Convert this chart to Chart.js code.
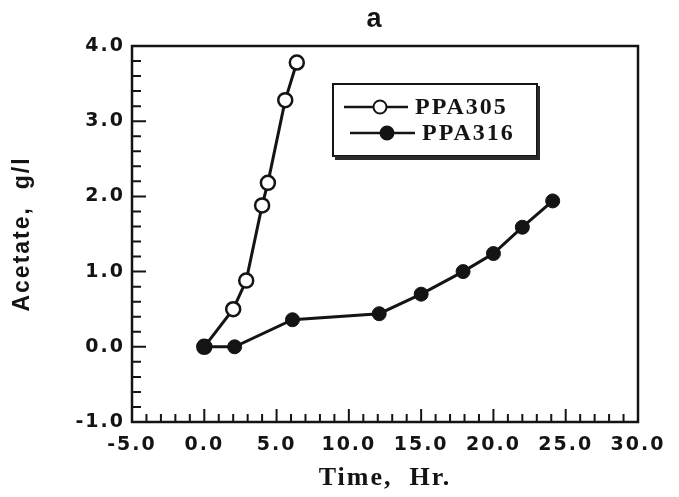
<!DOCTYPE html>
<html>
<head>
<meta charset="utf-8">
<script src="https://cdn.jsdelivr.net/npm/chart.js@4.4.0/dist/chart.umd.min.js"></script>
<style>
  html, body { margin: 0; padding: 0; background: #fff; }
  #wrap { width: 679px; height: 497px; }
</style>
</head>
<body>
<div id="wrap"><canvas id="grafico" width="679" height="497"></canvas></div>
<script>
// Datos
const tiempoPPA305 = [0, 2.0, 2.9, 4.0, 4.4, 5.6, 6.4];
const acetatoPPA305 = [0, 0.5, 0.88, 1.88, 2.18, 3.28, 3.78];
const tiempoPPA316 = [0, 2.1, 6.1, 12.1, 15.0, 17.9, 20.0, 22.0, 24.1];
const acetatoPPA316 = [0, 0, 0.36, 0.44, 0.7, 1.0, 1.24, 1.59, 1.94];
const etiquetas = ['PPA305', 'PPA316'];
const tituloGrafico = 'a';
const ejeX = { min: -5, max: 30, paso: 5, menor: 1 };
const ejeY = { min: -1, max: 4, paso: 1, menor: 0.2 };

const puntos = (xs, ys) => xs.map((x, i) => ({ x: x, y: ys[i] }));
const negro = '#141414';

// --- Marco, marcas internas, leyenda y título ---
const decoracion = {
    id: 'decoracion',
    beforeDraw(chart) {
        chart.ctx.letterSpacing = '2px';
    },
    afterDraw(chart) {
        const ctx = chart.ctx;
        const a = chart.chartArea;
        const sx = chart.scales.x, sy = chart.scales.y;
        ctx.save();
        ctx.letterSpacing = '0px';
        ctx.strokeStyle = negro;
        ctx.lineWidth = 2.5;
        ctx.strokeRect(a.left, a.top, a.right - a.left, a.bottom - a.top);

        // marcas del eje x (hacia dentro)
        ctx.lineWidth = 2;
        ctx.beginPath();
        for (let v = ejeX.min; v <= ejeX.max + 1e-9; v += ejeX.menor) {
            const px = sx.getPixelForValue(v);
            const mayor = Math.abs(v / ejeX.paso - Math.round(v / ejeX.paso)) < 1e-6;
            ctx.moveTo(px, a.bottom);
            ctx.lineTo(px, a.bottom - (mayor ? 13 : 8));
        }
        // marcas del eje y
        for (let v = ejeY.min; v <= ejeY.max + 1e-9; v += ejeY.menor) {
            const py = sy.getPixelForValue(v);
            const mayor = Math.abs(v / ejeY.paso - Math.round(v / ejeY.paso)) < 1e-6;
            ctx.moveTo(a.left, py);
            ctx.lineTo(a.left + (mayor ? 14 : 9), py);
        }
        ctx.stroke();

        // título
        ctx.fillStyle = negro;
        ctx.font = 'bold 27px "Liberation Sans"';
        ctx.textAlign = 'center';
        ctx.textBaseline = 'middle';
        ctx.fillText(tituloGrafico, 374, 20);

        // leyenda
        const bx = 333, by = 84, bw = 204, bh = 72;
        ctx.fillStyle = '#fff';
        ctx.fillRect(bx, by, bw, bh);
        ctx.lineWidth = 2;
        ctx.strokeRect(bx, by, bw, bh);
        ctx.fillStyle = '#2a2a2a';
        ctx.fillRect(bx + 2, by + bh, bw, 4);
        ctx.fillRect(bx + bw, by + 2, 3, bh + 2);

        const filas = [
            { y: 107, x0: 344, x1: 408, m: 380, t: 415, lleno: false },
            { y: 133, x0: 350, x1: 415, m: 387, t: 422, lleno: true }
        ];
        filas.forEach((f, i) => {
            ctx.strokeStyle = negro;
            ctx.lineWidth = 2.5;
            ctx.beginPath();
            ctx.moveTo(f.x0, f.y);
            ctx.lineTo(f.x1, f.y);
            ctx.stroke();
            ctx.beginPath();
            ctx.arc(f.m, f.y, 6.5, 0, Math.PI * 2);
            ctx.fillStyle = f.lleno ? negro : '#fff';
            ctx.fill();
            ctx.lineWidth = 2;
            ctx.stroke();
            ctx.fillStyle = negro;
            ctx.font = 'bold 24px "Liberation Serif"';
            ctx.letterSpacing = '2px';
            ctx.textAlign = 'left';
            ctx.textBaseline = 'middle';
            ctx.fillText(etiquetas[i], f.t, f.y + 1);
            ctx.letterSpacing = '0px';
        });
        ctx.restore();
        ctx.letterSpacing = '0px';
    }
};

const ctxGrafico = document.getElementById('grafico').getContext('2d');

const grafico = new Chart(ctxGrafico, {
    type: 'scatter',
    data: {
        datasets: [
            {
                label: etiquetas[1],
                data: puntos(tiempoPPA316, acetatoPPA316),
                showLine: true,
                borderColor: negro,
                borderWidth: 3,
                pointRadius: 7,
                pointBackgroundColor: negro,
                pointBorderColor: negro,
                pointBorderWidth: 1,
                order: 0
            },
            {
                label: etiquetas[0],
                data: puntos(tiempoPPA305, acetatoPPA305),
                showLine: true,
                borderColor: negro,
                borderWidth: 3,
                pointRadius: 7,
                pointBackgroundColor: '#fff',
                pointBorderColor: negro,
                pointBorderWidth: 2.5,
                order: 1
            }
        ]
    },
    options: {
        responsive: false,
        animation: false,
        layout: { padding: { top: 46, right: 41, bottom: 0, left: 0 } },
        plugins: {
            legend: { display: false },
            tooltip: { enabled: false }
        },
        scales: {
            x: {
                type: 'linear',
                min: ejeX.min, max: ejeX.max,
                grid: { display: false, drawTicks: false },
                border: { display: false },
                ticks: {
                    stepSize: ejeX.paso,
                    padding: 12,
                    color: negro,
                    font: { family: 'DejaVu Sans', weight: 'bold', size: 19 },
                    callback: v => v.toFixed(1)
                },
                title: {
                    display: true,
                    text: 'Time,  Hr.',
                    color: negro,
                    padding: { top: 0, bottom: 3 },
                    font: { family: 'Liberation Serif', weight: 'bold', size: 26 }
                },
                afterFit: s => { s.height = 75; }
            },
            y: {
                type: 'linear',
                min: ejeY.min, max: ejeY.max,
                grid: { display: false, drawTicks: false },
                border: { display: false },
                ticks: {
                    stepSize: ejeY.paso,
                    padding: 7,
                    color: negro,
                    font: { family: 'DejaVu Sans', weight: 'bold', size: 19 },
                    callback: v => v.toFixed(1)
                },
                title: {
                    display: true,
                    text: 'Acetate,  g/l',
                    color: negro,
                    padding: { top: 9, bottom: 0 },
                    font: { family: 'Liberation Sans', weight: 'bold', size: 23 }
                },
                afterFit: s => { s.width = 132; }
            }
        }
    },
    plugins: [decoracion]
});
</script>
</body>
</html>
